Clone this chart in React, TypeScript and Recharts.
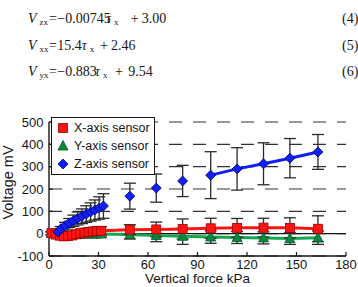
import React from 'react';
import { ComposedChart, Line, XAxis, YAxis, CartesianGrid, ReferenceLine, ErrorBar, Legend, Label } from 'recharts';

// Z-axis sensor: dense ramp at low force, three loose points, then the tail
const rampForce = [5.5, 7.2, 9.7, 12.2, 14.8, 17.4, 20, 22.6, 25.2, 27.8, 30.4, 33];
const zRampVolt = [8, 22, 36, 48, 58, 68, 78, 88, 97, 106, 115, 124];
const zRampErr = [6, 10, 15, 20, 25, 29, 33, 37, 41, 45, 50, 55];

const zMidForce = [49, 65, 81];
const zMidVolt = [168, 204, 236];
const zMidErr = [58, 63, 70];

const zTailForce = [98, 114, 130, 146, 163];
const zTailVolt = [262, 290, 313, 338, 366];
const zTailErr = [105, 95, 94, 88, 78];

// X- and Y-axis sensors share force points
const xyForce = [1.5, 4, 6.5, 9, 11.5, 14, 16.5, 19, 21.5, 24, 26.5, 29, 31.5, 49, 65, 81, 98, 114, 130, 146, 163];
const xVolt = [2, -4, -9, -12, -11, -8, -3, 2, 5, 8, 10, 12, 13, 18, 19, 21, 24, 26, 27, 26, 22];
const xErr = [8, 10, 12, 13, 14, 14, 15, 15, 16, 16, 17, 17, 18, 22, 33, 45, 45, 42, 42, 45, 58];
const yVolt = [1, 0, -1, -2, -2, -3, -3, -3, -2, -2, -2, -2, -2, -4, -8, -12, -15, -17, -19, -22, -18];
const yErr = [6, 7, 8, 9, 10, 10, 11, 11, 12, 12, 12, 13, 13, 20, 28, 36, 28, 27, 27, 26, 30];

const forceTicks = [0, 30, 60, 90, 120, 150, 180];
const voltTicks = [-100, 0, 100, 200, 300, 400, 500];
const seriesNames = ['X-axis sensor', 'Y-axis sensor', 'Z-axis sensor'];

const eqSubs = ['zx', 'xx', 'yx'];
const eqSlopes = ['\u22120.00745', '15.4', '\u22120.883'];
const eqIntercepts = ['3.00', '2.46', '9.54'];
const eqNumbers = ['(4)', '(5)', '(6)'];

const toRows = (f: number[], v: number[], e: number[]) => f.map((x, i) => ({ x, v: v[i], e: e[i] }));

const RED = '#ff1414';
const BLUE = '#1020f5';
const INK = '#161616';
const SANS = '"Liberation Sans", Arial, sans-serif';

const Square = ({ cx, cy }: any) => (
  <rect x={cx - 4.5} y={cy - 4.5} width={9} height={9} fill={RED} stroke="#a00000" strokeWidth={0.8} />
);
const Triangle = ({ cx, cy }: any) => (
  <polygon points={`${cx},${cy - 5.5} ${cx + 5},${cy + 4} ${cx - 5},${cy + 4}`} fill="#078a3e" stroke="#04552a" strokeWidth={0.8} />
);
const Diamond = ({ cx, cy }: any) => (
  <polygon points={`${cx},${cy - 5} ${cx + 5},${cy} ${cx},${cy + 5} ${cx - 5},${cy}`} fill={BLUE} stroke="#00006a" strokeWidth={0.8} />
);

const markers = [Square, Triangle, Diamond];

const LegendBox = () => (
  <div style={{ border: `1.3px solid ${INK}`, background: '#fff', padding: '1px 4px 1px 0', fontFamily: SANS, fontSize: 12.5, color: INK }}>
    {seriesNames.map((name, i) => {
      const M = markers[i];
      return (
        <div key={name} style={{ display: 'flex', alignItems: 'center', height: 18 }}>
          <svg width={12} height={12} style={{ marginLeft: 5, marginRight: 5 }}>
            <M cx={6} cy={6} />
          </svg>
          <span>{name}</span>
        </div>
      );
    })}
  </div>
);

const errorBar = <ErrorBar dataKey="e" width={6} stroke="#2a2a2a" strokeWidth={1.3} direction="y" isAnimationActive={false} />;

// horizontal start of each piece of the three equations
const tauLeft = [106, 81.7, 95];
const plusLeft = [130.7, 100, 115];
const interceptLeft = [141.7, 111, 128.3];

const At = ({ x, y, small, italic, children }: any) => (
  <span
    style={{
      position: 'absolute',
      left: x,
      top: small ? y + 4 : y,
      fontSize: small ? 9 : 14,
      fontStyle: italic ? 'italic' : 'normal',
      whiteSpace: 'nowrap',
    }}
  >
    {children}
  </span>
);

const Equations = () => (
  <div style={{ fontFamily: '"Liberation Serif", serif', lineHeight: '15px', color: INK }}>
    {eqSubs.map((s, i) => {
      const y = 11 + i * 26.5;
      return (
        <React.Fragment key={s}>
          <At x={28} y={y} italic>V</At>
          <At x={39.5} y={y} small>{s}</At>
          <At x={49} y={y}>=</At>
          <At x={57.3} y={y}>{eqSlopes[i]}</At>
          <At x={tauLeft[i]} y={y} italic>τ</At>
          <At x={tauLeft[i] + 8} y={y} small>x</At>
          <At x={plusLeft[i]} y={y}>+</At>
          <At x={interceptLeft[i]} y={y}>{eqIntercepts[i]}</At>
          <At x={342} y={y}>{eqNumbers[i]}</At>
        </React.Fragment>
      );
    })}
  </div>
);

const App: React.FC = () => {
  const tickStyle = { fill: INK, fontSize: 13, fontFamily: SANS };
  return (
    <div style={{ position: 'absolute', left: 0, top: 0, width: 358, height: 287, background: '#fff', overflow: 'hidden' }}>
      <Equations />
      <div style={{ position: 'absolute', left: 0, top: 0 }}>
        <ComposedChart width={358} height={287} margin={{ top: 122, right: 12, bottom: 3, left: 0 }}>
          <CartesianGrid vertical={false} strokeDasharray="13 11" stroke="#333" strokeWidth={1.2} />
          <XAxis
            type="number"
            dataKey="x"
            domain={[0, 180]}
            ticks={forceTicks}
            interval={0}
            height={28}
            tickSize={-4}
            tickMargin={8}
            axisLine={{ stroke: INK, strokeWidth: 1.4 }}
            tickLine={{ stroke: INK, strokeWidth: 1.2 }}
            tick={tickStyle}
          >
            <Label value="Vertical force kPa" position="insideBottom" offset={1} style={{ fill: INK, fontSize: 13.5, fontFamily: SANS }} />
          </XAxis>
          <YAxis
            type="number"
            domain={[-100, 500]}
            ticks={voltTicks}
            interval={0}
            width={49}
            tickSize={-4}
            tickMargin={9.5}
            axisLine={{ stroke: INK, strokeWidth: 1.4 }}
            tickLine={{ stroke: INK, strokeWidth: 1.2 }}
            tick={tickStyle}
          >
            <Label
              content={(p: any) => {
                const vb = p.viewBox;
                const cx = vb.x + 13;
                const cy = vb.y + vb.height / 2 - 6.5;
                return (
                  <text x={cx} y={cy} transform={`rotate(-90, ${cx}, ${cy})`} textAnchor="middle" fill={INK} fontSize={14.5} fontFamily={SANS}>
                    Voltage mV
                  </text>
                );
              }}
            />
          </YAxis>
          <ReferenceLine y={0} stroke={INK} strokeWidth={1.3} />
          <Line
            data={toRows(xyForce, yVolt, yErr)}
            dataKey="v"
            stroke="#12a650"
            strokeWidth={3}
            isAnimationActive={false}
            dot={(p: any) => <Triangle key={`g${p.index}`} cx={p.cx} cy={p.cy} />}
            activeDot={false}
          >
            {errorBar}
          </Line>
          <Line
            data={toRows(xyForce, xVolt, xErr)}
            dataKey="v"
            stroke={RED}
            strokeWidth={3}
            isAnimationActive={false}
            dot={(p: any) => <Square key={`r${p.index}`} cx={p.cx} cy={p.cy} />}
            activeDot={false}
          >
            {errorBar}
          </Line>
          <Line
            data={toRows(rampForce, zRampVolt, zRampErr)}
            dataKey="v"
            stroke={BLUE}
            strokeWidth={3}
            isAnimationActive={false}
            dot={(p: any) => <Diamond key={`b${p.index}`} cx={p.cx} cy={p.cy} />}
            activeDot={false}
          >
            {errorBar}
          </Line>
          <Line
            data={toRows(zMidForce, zMidVolt, zMidErr)}
            dataKey="v"
            stroke="none"
            isAnimationActive={false}
            dot={(p: any) => <Diamond key={`m${p.index}`} cx={p.cx} cy={p.cy} />}
            activeDot={false}
          >
            {errorBar}
          </Line>
          <Line
            data={toRows(zTailForce, zTailVolt, zTailErr)}
            dataKey="v"
            stroke={BLUE}
            strokeWidth={3}
            isAnimationActive={false}
            dot={(p: any) => <Diamond key={`t${p.index}`} cx={p.cx} cy={p.cy} />}
            activeDot={false}
          >
            {errorBar}
          </Line>
          <Legend
            layout="vertical"
            align="center"
            verticalAlign="middle"
            content={() => <LegendBox />}
            wrapperStyle={{ left: 51, top: 117, width: 'auto', height: 'auto', bottom: 'auto', right: 'auto' }}
          />
        </ComposedChart>
      </div>
    </div>
  );
};

export default App;
